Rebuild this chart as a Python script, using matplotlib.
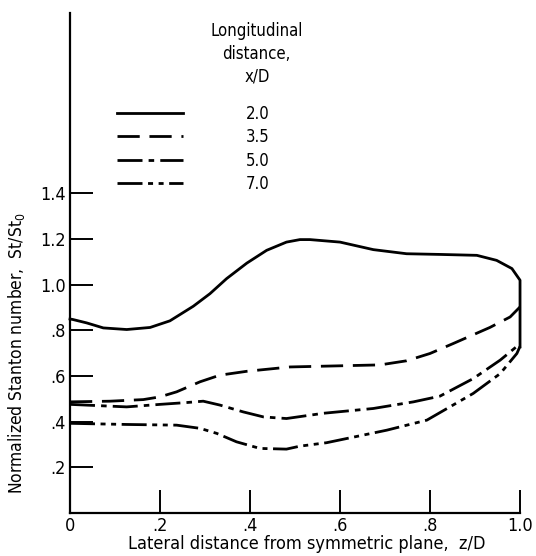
import matplotlib.pyplot as plt

plt.rcParams['font.family'] = ['DejaVu Sans']
plt.rcParams['font.stretch'] = 'condensed'

z_20 = [0, 0.006, 0.037, 0.074, 0.126, 0.178, 0.222, 0.274, 0.311, 0.348, 0.393, 0.437, 0.481,
        0.511, 0.533, 0.60, 0.674, 0.748, 0.822, 0.904, 0.948, 0.982, 1.0, 1.0]
st_20 = [0.85, 0.848, 0.833, 0.811, 0.804, 0.813, 0.842, 0.906, 0.961, 1.027, 1.095, 1.151, 1.187,
         1.198, 1.198, 1.187, 1.154, 1.136, 1.133, 1.129, 1.107, 1.071, 1.02, 0.728]

z_35 = [0, 0.089, 0.163, 0.20, 0.237, 0.289, 0.333, 0.393, 0.489, 0.60, 0.689, 0.748, 0.80,
        0.852, 0.933, 0.978, 1.0]
st_35 = [0.487, 0.49, 0.497, 0.509, 0.531, 0.575, 0.604, 0.621, 0.64, 0.645, 0.649, 0.667, 0.699,
         0.743, 0.813, 0.859, 0.903]

z_50 = [0, 0.126, 0.20, 0.259, 0.296, 0.333, 0.385, 0.43, 0.481, 0.563, 0.674, 0.763, 0.822,
        0.896, 0.956, 0.996, 1.0]
st_50 = [0.476, 0.465, 0.476, 0.484, 0.49, 0.473, 0.443, 0.421, 0.414, 0.437, 0.458, 0.487, 0.512,
         0.589, 0.67, 0.735, 0.745]

z_70 = [0, 0.126, 0.237, 0.289, 0.326, 0.37, 0.422, 0.481, 0.511, 0.57, 0.704, 0.793, 0.896,
        0.956, 0.993, 1.0]
st_70 = [0.393, 0.388, 0.385, 0.371, 0.349, 0.312, 0.283, 0.28, 0.293, 0.308, 0.363, 0.407, 0.524,
         0.611, 0.699, 0.73]

labels = ['2.0', '3.5', '5.0', '7.0']

x_ticks = [0, 0.2, 0.4, 0.6, 0.8, 1.0]
x_ticklabels = ['0', '.2', '.4', '.6', '.8', '1.0']
y_ticks = [0.2, 0.4, 0.6, 0.8, 1.0, 1.2, 1.4]
y_ticklabels = ['.2', '.4', '.6', '.8', '1.0', '1.2', '1.4']

fig = plt.figure(figsize=(5.36, 5.56), dpi=100)
ax = fig.add_axes([0.1306, 0.0773, 0.8396, 0.899])

lw = 2.0
ax.plot(z_20, st_20, color='black', lw=lw, ls='-', label=labels[0], clip_on=False)
ax.plot(z_35, st_35, color='black', lw=lw, ls=(0, (8, 3.5)), label=labels[1], clip_on=False)
ax.plot(z_50, st_50, color='black', lw=lw, ls=(0, (9, 2.2, 2, 2.2)), label=labels[2], clip_on=False)
ax.plot(z_70, st_70, color='black', lw=lw, ls=(0, (9, 2, 1.8, 2, 1.8, 2)), label=labels[3], clip_on=False)

ax.set_xlim(0, 1.0)
ax.set_ylim(0, 2.19)
ax.spines['top'].set_visible(False)
ax.spines['right'].set_visible(False)
ax.spines['left'].set_linewidth(1.6)
ax.spines['bottom'].set_linewidth(1.6)

ax.set_xticks(x_ticks)
ax.set_xticklabels(x_ticklabels)
ax.set_yticks(y_ticks)
ax.set_yticklabels(y_ticklabels)
ax.tick_params(direction='in', length=16.5, width=1.4, labelsize=13, pad=3)

ax.set_xlabel('Lateral distance from symmetric plane,  z/D', fontsize=13)
ax.xaxis.set_label_coords(0.527, -0.043)
ax.set_ylabel('Normalized Stanton number,  St/St$_0$', fontsize=12.5)
ax.yaxis.set_label_coords(-0.095, 0.32)

leg = ax.legend(loc='upper left', bbox_to_anchor=(0.104, 0.817), frameon=False,
                handlelength=3.95, handletextpad=3.8, labelspacing=0.33, fontsize=12,
                borderaxespad=0, borderpad=0)
ax.text(0.415, 0.982, 'Longitudinal\ndistance,\nx/D', transform=ax.transAxes,
        ha='center', va='top', fontsize=12, linespacing=1.35)

fig.savefig('out.png', dpi=100)
